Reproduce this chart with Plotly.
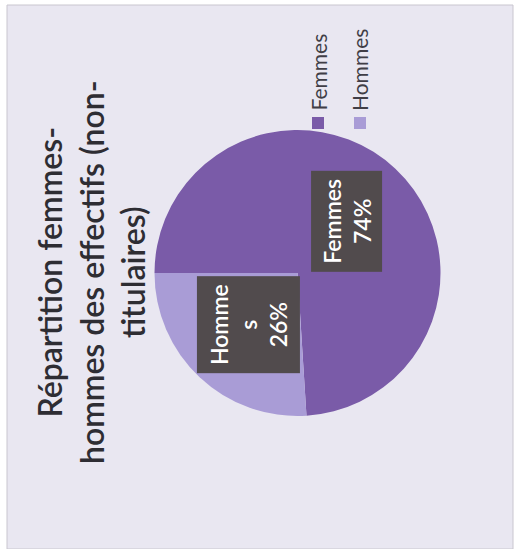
import math
import plotly.graph_objects as go

# Data
categories = ["Femmes", "Hommes"]
values = [74, 26]
colors = ["#7a5ba8", "#a99cd6"]
title_lines = ["Répartition femmes-", "hommes des effectifs (non-", "titulaires)"]
label_names = ["Femmes", "Homme<br>s"]

W, H = 516, 549
FONT = "Lato, 'Open Sans', sans-serif"

# Pie geometry (paper coords for centre, pixels for radius)
cx_px, cy_px, r_px = 297.5, 273.0, 143.0
cx, cy = cx_px / W, 1 - cy_px / H
start_angle = -90  # first slice starts at 9 o'clock, going clockwise

fig = go.Figure()
fig.add_trace(go.Pie(
    labels=categories,
    values=values,
    sort=False,
    direction="clockwise",
    rotation=start_angle,
    marker=dict(colors=colors, line=dict(width=0)),
    textinfo="none",
    hoverinfo="label+percent",
    showlegend=False,
    domain=dict(x=[(cx_px - r_px) / W, (cx_px + r_px) / W],
                y=[1 - (cy_px + r_px) / H, 1 - (cy_px - r_px) / H]),
))

shapes = [
    # card background with thin frame
    dict(type="rect", xref="paper", yref="paper", x0=7 / W, x1=513 / W, y0=0, y1=1 - 5 / H,
         fillcolor="#e9e7f1", line=dict(color="#c9c6cf", width=1), layer="below"),
]

annotations = []

# Title, rotated to read bottom-to-top
annotations.append(dict(
    xref="paper", yref="paper", x=91 / W, y=1 - 272 / H,
    text="<br>".join(title_lines), showarrow=False, textangle=-90,
    font=dict(family=FONT, size=32, color="#2e2d33", weight=600), align="center",
    xanchor="center", yanchor="middle",
))

# Data labels placed at half radius on each slice's mid-angle
total = sum(values)
box_sizes = [(100, 70), (96, 102)]
acc = 0
for name, v, (bw, bh) in zip(label_names, values, box_sizes):
    mid = start_angle + (acc + v / 2) / total * 360
    acc += v
    a = math.radians(mid)
    lx = cx_px + 0.5 * r_px * math.sin(a)
    ly = cy_px - 0.5 * r_px * math.cos(a)
    pct = f"{round(v / total * 100)}%"
    annotations.append(dict(
        xref="paper", yref="paper", x=lx / W, y=1 - ly / H,
        text=f"{name}<br>{pct}", showarrow=False, textangle=-90,
        font=dict(family=FONT, size=23, color="#ffffff", weight=600),
        bgcolor="#514b4d", borderpad=0, width=bw, height=bh,
        xanchor="center", yanchor="middle", align="center",
    ))

# Legend drawn as rotated entries to the upper right
legend_x = [318, 360]
for name, col, lxp in zip(categories, colors, legend_x):
    shapes.append(dict(type="rect", xref="paper", yref="paper",
                       x0=(lxp - 6) / W, x1=(lxp + 6) / W,
                       y0=1 - 129 / H, y1=1 - 117 / H,
                       fillcolor=col, line=dict(width=0)))
    annotations.append(dict(
        xref="paper", yref="paper", x=lxp / W, y=1 - 113 / H,
        text=name, showarrow=False, textangle=-90,
        font=dict(family=FONT, size=21, color="#403e46"),
        xanchor="center", yanchor="bottom",
    ))

fig.update_layout(
    width=W, height=H,
    margin=dict(l=0, r=0, t=0, b=0),
    paper_bgcolor="#ffffff",
    plot_bgcolor="#ffffff",
    shapes=shapes,
    annotations=annotations,
)

fig.write_html("out.html")
